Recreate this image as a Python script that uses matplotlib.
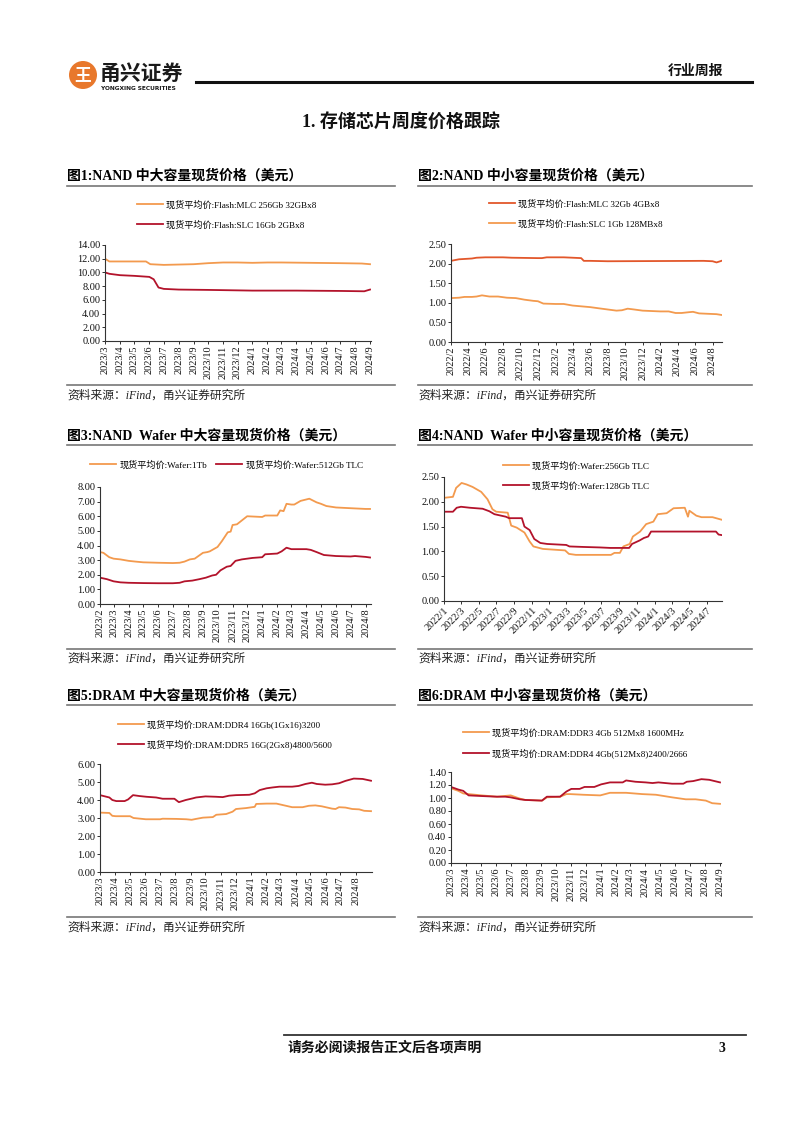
import matplotlib
matplotlib.use("Agg")
import matplotlib.pyplot as plt
import matplotlib.patches as mpatches
import pandas as pd

plt.rcParams['font.family'] = ['Liberation Serif', 'Noto Sans CJK SC']
plt.rcParams['axes.unicode_minus'] = False

W, H = 802, 1133
ORANGE = "#F39A4E"
RED = "#B3132B"
ORED = "#E2572B"

# ---------------- data ----------------
# 图1 NAND 中大容量
c1_mlc_dates = ["2023-03-01", "2023-03-10", "2023-05-25", "2023-06-03", "2023-07-01", "2023-08-01",
                "2023-09-01", "2023-10-01", "2023-11-01", "2023-12-01", "2024-01-01", "2024-02-01",
                "2024-03-01", "2024-05-01", "2024-07-01", "2024-08-15", "2024-09-01"]
c1_mlc = [12.0, 11.6, 11.6, 11.2, 11.1, 11.15, 11.2, 11.35, 11.45, 11.45, 11.4, 11.45,
          11.45, 11.4, 11.35, 11.3, 11.2]
c1_slc_dates = ["2023-03-01", "2023-03-10", "2023-04-01", "2023-05-01", "2023-06-01", "2023-06-10",
                "2023-06-20", "2023-07-01", "2023-08-01", "2023-10-01", "2024-01-01", "2024-04-01",
                "2024-07-01", "2024-08-20", "2024-09-01"]
c1_slc = [10.0, 9.8, 9.6, 9.5, 9.35, 9.0, 7.8, 7.6, 7.5, 7.45, 7.35, 7.35, 7.3, 7.25, 7.5]

# 图2 NAND 中小容量
c2_mlc_dates = ["2022-02-01", "2022-03-01", "2022-04-15", "2022-05-01", "2022-06-01", "2022-08-01",
                "2022-09-01", "2022-12-01", "2022-12-15", "2023-01-01", "2023-03-01", "2023-04-01",
                "2023-05-01", "2023-05-10", "2023-06-01", "2023-08-01", "2024-07-01", "2024-08-01",
                "2024-08-15", "2024-09-01"]
c2_mlc = [2.07, 2.11, 2.13, 2.15, 2.16, 2.16, 2.15, 2.14, 2.14, 2.16, 2.16, 2.15,
          2.14, 2.07, 2.07, 2.06, 2.07, 2.06, 2.03, 2.07]
c2_slc_dates = ["2022-02-01", "2022-03-01", "2022-03-20", "2022-04-15", "2022-05-01", "2022-05-20",
                "2022-06-15", "2022-07-15", "2022-08-15", "2022-09-15", "2022-10-15", "2022-11-15",
                "2022-12-01", "2022-12-20", "2023-02-01", "2023-03-01", "2023-04-01", "2023-05-01",
                "2023-06-01", "2023-07-01", "2023-08-01", "2023-09-01", "2023-09-20", "2023-10-10",
                "2023-11-01", "2023-12-01", "2024-01-01", "2024-02-01", "2024-03-01", "2024-03-25",
                "2024-04-15", "2024-05-10", "2024-05-25", "2024-06-15", "2024-07-15", "2024-08-15",
                "2024-09-01"]
c2_slc = [1.12, 1.13, 1.15, 1.15, 1.16, 1.19, 1.16, 1.16, 1.13, 1.12, 1.08, 1.05,
          1.04, 0.98, 0.97, 0.97, 0.93, 0.91, 0.89, 0.86, 0.83, 0.80, 0.81, 0.85,
          0.83, 0.80, 0.79, 0.78, 0.78, 0.74, 0.74, 0.76, 0.77, 0.73, 0.72, 0.71, 0.69]

# 图3 NAND Wafer 中大容量
c3_1tb_dates = ["2023-02-01", "2023-02-08", "2023-02-20", "2023-03-01", "2023-03-15", "2023-04-01",
                "2023-04-15", "2023-05-01", "2023-06-01", "2023-07-01", "2023-07-15", "2023-07-25",
                "2023-08-05", "2023-08-15", "2023-09-01", "2023-09-10", "2023-09-15", "2023-10-01",
                "2023-10-10", "2023-10-22", "2023-10-28", "2023-11-01", "2023-11-10", "2023-12-01",
                "2024-01-01", "2024-01-07", "2024-02-01", "2024-02-07", "2024-02-14", "2024-02-20",
                "2024-03-01", "2024-03-07", "2024-03-20", "2024-04-01", "2024-04-07", "2024-04-22",
                "2024-05-01", "2024-05-12", "2024-06-01", "2024-07-01", "2024-08-01", "2024-08-10"]
c3_1tb = [3.55, 3.5, 3.2, 3.1, 3.05, 2.95, 2.9, 2.85, 2.82, 2.8, 2.82, 2.9,
          3.05, 3.1, 3.5, 3.55, 3.6, 3.9, 4.3, 4.9, 4.95, 5.4, 5.45, 6.0,
          5.95, 6.05, 6.05, 6.4, 6.35, 6.85, 6.8, 6.8, 7.05, 7.15, 7.2, 6.95,
          6.85, 6.7, 6.6, 6.55, 6.5, 6.5]
c3_512_dates = ["2023-02-01", "2023-02-15", "2023-03-01", "2023-03-15", "2023-04-01", "2023-05-01",
                "2023-06-01", "2023-07-01", "2023-07-15", "2023-07-25", "2023-08-10", "2023-08-25",
                "2023-09-07", "2023-09-20", "2023-09-28", "2023-10-07", "2023-10-20", "2023-10-28",
                "2023-11-07", "2023-11-20", "2023-12-01", "2023-12-12", "2024-01-01", "2024-01-07",
                "2024-02-01", "2024-02-10", "2024-02-20", "2024-03-01", "2024-04-01", "2024-04-10",
                "2024-04-22", "2024-05-07", "2024-06-01", "2024-07-01", "2024-07-10", "2024-08-01",
                "2024-08-10"]
c3_512 = [1.8, 1.7, 1.55, 1.48, 1.45, 1.43, 1.42, 1.42, 1.45, 1.55, 1.6, 1.7,
          1.8, 1.95, 2.0, 2.3, 2.55, 2.6, 2.95, 3.05, 3.1, 3.15, 3.2, 3.4,
          3.45, 3.6, 3.85, 3.75, 3.75, 3.7, 3.55, 3.35, 3.28, 3.25, 3.28, 3.22, 3.18]

# 图4 NAND Wafer 中小容量
c4_256_dates = ["2022-01-01", "2022-02-01", "2022-02-12", "2022-03-03", "2022-03-20", "2022-04-10",
                "2022-05-10", "2022-06-01", "2022-06-18", "2022-07-01", "2022-08-10", "2022-08-22",
                "2022-09-10", "2022-10-07", "2022-10-25", "2022-11-07", "2022-12-10", "2023-02-25",
                "2023-03-10", "2023-04-03", "2023-08-03", "2023-08-15", "2023-09-03", "2023-09-15",
                "2023-10-07", "2023-10-18", "2023-11-12", "2023-12-03", "2023-12-28", "2024-01-12",
                "2024-02-12", "2024-03-07", "2024-04-15", "2024-04-26", "2024-05-01", "2024-05-25",
                "2024-06-12", "2024-07-20", "2024-08-20"]
c4_256 = [2.08, 2.1, 2.28, 2.38, 2.35, 2.3, 2.2, 2.05, 1.85, 1.8, 1.78, 1.52,
          1.48, 1.38, 1.2, 1.1, 1.05, 1.02, 0.95, 0.93, 0.93, 0.97, 0.97, 1.1,
          1.15, 1.3, 1.4, 1.55, 1.6, 1.75, 1.77, 1.87, 1.88, 1.7, 1.82, 1.72,
          1.69, 1.69, 1.64]
c4_128_dates = ["2022-01-01", "2022-02-01", "2022-02-14", "2022-03-01", "2022-04-01", "2022-05-15",
                "2022-06-07", "2022-06-25", "2022-08-03", "2022-08-15", "2022-09-28", "2022-10-07",
                "2022-10-25", "2022-11-10", "2022-12-01", "2022-12-25", "2023-03-01", "2023-03-12",
                "2023-04-28", "2023-06-25", "2023-08-01", "2023-10-05", "2023-10-15", "2023-11-10",
                "2023-11-25", "2023-12-10", "2023-12-20", "2024-08-01", "2024-08-10", "2024-08-20"]
c4_128 = [1.8, 1.8, 1.88, 1.9, 1.88, 1.86, 1.81, 1.75, 1.7, 1.67, 1.67, 1.5,
          1.43, 1.25, 1.17, 1.15, 1.13, 1.1, 1.09, 1.08, 1.07, 1.07, 1.15, 1.22,
          1.27, 1.3, 1.4, 1.4, 1.34, 1.33]

# 图5 DRAM 中大容量
c5_ddr4_dates = ["2023-03-01", "2023-03-20", "2023-03-26", "2023-04-02", "2023-05-01", "2023-05-08",
                 "2023-06-02", "2023-07-01", "2023-07-06", "2023-08-03", "2023-08-23", "2023-09-03",
                 "2023-09-12", "2023-09-26", "2023-10-16", "2023-10-23", "2023-11-12", "2023-11-25",
                 "2023-12-02", "2023-12-22", "2024-01-09", "2024-01-12", "2024-02-02", "2024-02-22",
                 "2024-03-25", "2024-04-15", "2024-04-28", "2024-05-11", "2024-05-24", "2024-06-14",
                 "2024-06-21", "2024-06-28", "2024-07-11", "2024-07-25", "2024-08-08", "2024-08-18",
                 "2024-09-01"]
c5_ddr4 = [3.3, 3.28, 3.12, 3.1, 3.1, 3.0, 2.93, 2.93, 2.96, 2.95, 2.93, 2.9,
           2.95, 3.02, 3.05, 3.18, 3.22, 3.35, 3.5, 3.55, 3.62, 3.78, 3.8, 3.8,
           3.6, 3.6, 3.68, 3.7, 3.65, 3.52, 3.5, 3.6, 3.58, 3.5, 3.48, 3.4, 3.38]
c5_ddr5_dates = ["2023-03-01", "2023-03-20", "2023-03-26", "2023-04-03", "2023-04-20", "2023-04-27",
                 "2023-05-07", "2023-05-20", "2023-06-03", "2023-06-23", "2023-07-06", "2023-07-30",
                 "2023-08-08", "2023-08-22", "2023-09-05", "2023-09-12", "2023-10-01", "2023-10-22",
                 "2023-11-05", "2023-11-18", "2023-12-02", "2023-12-29", "2024-01-09", "2024-01-19",
                 "2024-02-02", "2024-02-15", "2024-02-28", "2024-03-25", "2024-04-07", "2024-04-21",
                 "2024-05-04", "2024-05-14", "2024-05-31", "2024-06-14", "2024-06-28", "2024-07-11",
                 "2024-07-28", "2024-08-15", "2024-09-01"]
c5_ddr5 = [4.27, 4.14, 4.0, 3.94, 3.94, 4.03, 4.27, 4.22, 4.18, 4.14, 4.07, 4.07,
           3.88, 4.0, 4.09, 4.14, 4.2, 4.18, 4.16, 4.24, 4.27, 4.29, 4.37, 4.55,
           4.65, 4.7, 4.74, 4.74, 4.78, 4.89, 4.96, 4.89, 4.85, 4.87, 4.93, 5.06,
           5.19, 5.17, 5.07]

# 图6 DRAM 中小容量
c6_ddr3_dates = ["2023-03-01", "2023-03-16", "2023-03-26", "2023-04-06", "2023-05-03", "2023-06-03",
                 "2023-07-01", "2023-07-20", "2023-07-31", "2023-09-03", "2023-09-13", "2023-10-10",
                 "2023-10-23", "2023-10-31", "2023-11-26", "2023-12-31", "2024-01-20", "2024-02-22",
                 "2024-03-26", "2024-04-23", "2024-05-26", "2024-06-23", "2024-07-13", "2024-08-03",
                 "2024-08-16", "2024-09-01"]
c6_ddr3 = [1.15, 1.11, 1.07, 1.06, 1.04, 1.02, 1.04, 0.99, 0.97, 0.96, 1.01, 1.02,
           1.06, 1.06, 1.05, 1.04, 1.08, 1.08, 1.06, 1.05, 1.01, 0.98, 0.98, 0.96,
           0.92, 0.91]
c6_ddr4_dates = ["2023-03-01", "2023-03-16", "2023-03-26", "2023-04-06", "2023-05-03", "2023-06-03",
                 "2023-06-20", "2023-07-01", "2023-07-20", "2023-07-31", "2023-09-03", "2023-09-13",
                 "2023-10-10", "2023-10-23", "2023-11-02", "2023-11-19", "2023-11-29", "2023-12-19",
                 "2024-01-02", "2024-01-20", "2024-02-15", "2024-02-22", "2024-03-12", "2024-04-02",
                 "2024-04-16", "2024-04-28", "2024-05-26", "2024-06-18", "2024-06-25", "2024-07-08",
                 "2024-07-25", "2024-08-10", "2024-09-01"]
c6_ddr4 = [1.17, 1.13, 1.11, 1.04, 1.03, 1.02, 1.02, 1.01, 0.98, 0.97, 0.96, 1.02,
           1.02, 1.1, 1.14, 1.14, 1.17, 1.17, 1.21, 1.24, 1.24, 1.27, 1.25, 1.24,
           1.23, 1.24, 1.22, 1.22, 1.25, 1.26, 1.29, 1.28, 1.24]


# ---------------- helpers ----------------
def fx(x):
    return x / W


def fy(y):
    return 1 - y / H


def make_axes(left, top, right, bottom):
    return fig.add_axes([fx(left), fy(bottom), (right - left) / W, (bottom - top) / H])


def style_axes(ax, ymax, ystep, xstart, xend, tick_start, tick_end, tick_freq, rot):
    ax.set_ylim(0, ymax)
    n = int(round(ymax / ystep))
    ax.set_yticks([i * ystep for i in range(n + 1)])
    ax.set_yticklabels([f"{i * ystep:.2f}" for i in range(n + 1)])
    ax.set_xlim(pd.Timestamp(xstart), pd.Timestamp(xend))
    ticks = pd.date_range(tick_start, tick_end, freq=tick_freq)
    ax.set_xticks(ticks)
    labels = [f"{d.year}/{d.month}" for d in ticks]
    if rot == 90:
        ax.set_xticklabels(labels, rotation=90, ha="center", va="top")
    else:
        ax.set_xticklabels(labels, rotation=45, ha="right", va="top", rotation_mode="anchor")
    for s in ["top", "right"]:
        ax.spines[s].set_visible(False)
    for s in ["left", "bottom"]:
        ax.spines[s].set_color("#333333")
        ax.spines[s].set_linewidth(0.8)
    ax.tick_params(axis="both", labelsize=7.4, length=2, width=0.6, pad=1.5, colors="#111111")
    ax.set_facecolor("none")


def plot_series(ax, dates, values, color, label, lw=1.3):
    return ax.plot(pd.to_datetime(dates), values, color=color, lw=lw, label=label)[0]


def add_legend(ax, hx, top, ncol=1, colspace=1.2):
    ax.legend(loc="upper left", bbox_to_anchor=(fx(hx), fy(top)), bbox_transform=fig.transFigure,
              frameon=False, fontsize=6.6, handlelength=2.8, handletextpad=0.4,
              labelspacing=1.15, borderpad=0, borderaxespad=0, ncol=ncol, columnspacing=colspace)


def section(x0, x1, title, ytitle, yline, ysrc_line, ysrc):
    fig.text(fx(x0), fy(ytitle), title, fontsize=10, fontweight="bold", va="center", ha="left")
    fig.add_artist(plt.Line2D([fx(x0), fx(x1)], [fy(yline), fy(yline)], color="#777777", lw=1.2))
    fig.add_artist(plt.Line2D([fx(x0), fx(x1)], [fy(ysrc_line), fy(ysrc_line)], color="#777777", lw=1.2))
    fig.text(fx(x0), fy(ysrc), "资料来源：iFind，甬兴证券研究所", fontsize=8.5, style="italic",
             va="center", ha="left", color="#222222")


# ---------------- figure ----------------
fig = plt.figure(figsize=(W / 100, H / 100), dpi=100)

# header
logo = mpatches.Ellipse((fx(83), fy(75)), 28 / W, 28 / H, transform=fig.transFigure,
                        facecolor="#E8782C", edgecolor="none")
fig.add_artist(logo)
fig.text(fx(83), fy(75), "王", fontsize=12, fontweight="bold", color="white", ha="center", va="center",
         family=["Noto Sans CJK SC"])
fig.text(fx(100), fy(73), "甬兴证券", fontsize=15, fontweight="bold", color="#1a1a1a", ha="left",
         va="center", family=["Noto Sans CJK SC"])
fig.text(fx(101), fy(89), "YONGXING SECURITIES", fontsize=4.2, fontweight="bold", color="#1a1a1a",
         ha="left", va="center", family=["DejaVu Sans"])
fig.add_artist(plt.Line2D([fx(196), fx(752)], [fy(82), fy(82)], color="#111111", lw=2.2))
fig.text(fx(668), fy(71), "行业周报", fontsize=10, fontweight="bold", ha="left", va="center",
         color="#111111")
fig.text(fx(401), fy(122), "1. 存储芯片周度价格跟踪", fontsize=13, fontweight="bold", ha="center",
         va="center", color="#111111")

# section frames
section(67, 395, "图1:NAND 中大容量现货价格（美元）", 176, 186, 385, 396)
section(418, 752, "图2:NAND 中小容量现货价格（美元）", 176, 186, 385, 396)
section(67, 395, "图3:NAND  Wafer 中大容量现货价格（美元）", 436, 445, 649, 659)
section(418, 752, "图4:NAND  Wafer 中小容量现货价格（美元）", 436, 445, 649, 659)
section(67, 395, "图5:DRAM 中大容量现货价格（美元）", 696, 705, 917, 928)
section(418, 752, "图6:DRAM 中小容量现货价格（美元）", 696, 705, 917, 928)

# chart 1
ax1 = make_axes(105, 245, 371, 341)
plot_series(ax1, c1_mlc_dates, c1_mlc, ORANGE, "现货平均价:Flash:MLC 256Gb 32GBx8")
plot_series(ax1, c1_slc_dates, c1_slc, RED, "现货平均价:Flash:SLC 16Gb 2GBx8")
style_axes(ax1, 14, 2, "2023-03-01", "2024-09-03", "2023-03-01", "2024-09-01", "MS", 90)
add_legend(ax1, 137, 200)

# chart 2
ax2 = make_axes(451, 244, 722, 342)
plot_series(ax2, c2_mlc_dates, c2_mlc, ORED, "现货平均价:Flash:MLC 32Gb 4GBx8")
plot_series(ax2, c2_slc_dates, c2_slc, ORANGE, "现货平均价:Flash:SLC 1Gb 128MBx8")
style_axes(ax2, 2.5, 0.5, "2022-02-01", "2024-09-03", "2022-02-01", "2024-08-01", "2MS", 90)
add_legend(ax2, 489, 199)

# chart 3
ax3 = make_axes(100, 487, 371, 604)
plot_series(ax3, c3_1tb_dates, c3_1tb, ORANGE, "现货平均价:Wafer:1Tb")
plot_series(ax3, c3_512_dates, c3_512, RED, "现货平均价:Wafer:512Gb TLC")
style_axes(ax3, 8, 1, "2023-02-01", "2024-08-12", "2023-02-01", "2024-08-01", "MS", 90)
add_legend(ax3, 90, 460, ncol=2, colspace=1.0)

# chart 4
ax4 = make_axes(444, 477, 722, 601)
plot_series(ax4, c4_256_dates, c4_256, ORANGE, "现货平均价:Wafer:256Gb TLC")
plot_series(ax4, c4_128_dates, c4_128, RED, "现货平均价:Wafer:128Gb TLC")
style_axes(ax4, 2.5, 0.5, "2022-01-01", "2024-08-22", "2022-01-01", "2024-07-01", "2MS", 45)
add_legend(ax4, 503, 461)

# chart 5
ax5 = make_axes(100, 764, 372, 872)
plot_series(ax5, c5_ddr4_dates, c5_ddr4, ORANGE, "现货平均价:DRAM:DDR4 16Gb(1Gx16)3200")
plot_series(ax5, c5_ddr5_dates, c5_ddr5, RED, "现货平均价:DRAM:DDR5 16G(2Gx8)4800/5600")
style_axes(ax5, 6, 1, "2023-03-01", "2024-09-03", "2023-03-01", "2024-08-01", "MS", 90)
add_legend(ax5, 118, 719)

# chart 6
ax6 = make_axes(451, 772, 721, 863)
plot_series(ax6, c6_ddr3_dates, c6_ddr3, ORANGE, "现货平均价:DRAM:DDR3 4Gb 512Mx8 1600MHz")
plot_series(ax6, c6_ddr4_dates, c6_ddr4, RED, "现货平均价:DRAM:DDR4 4Gb(512Mx8)2400/2666")
style_axes(ax6, 1.4, 0.2, "2023-03-01", "2024-09-03", "2023-03-01", "2024-09-01", "MS", 90)
add_legend(ax6, 463, 728)

# footer
fig.add_artist(plt.Line2D([fx(284), fx(746)], [fy(1035), fy(1035)], color="#333333", lw=1.3))
fig.text(fx(288), fy(1048), "请务必阅读报告正文后各项声明", fontsize=10, fontweight="bold",
         ha="left", va="center", color="#111111")
fig.text(fx(722), fy(1048), "3", fontsize=10, fontweight="bold", ha="center", va="center",
         color="#111111")

fig.savefig("out.png", dpi=100, facecolor="white")
